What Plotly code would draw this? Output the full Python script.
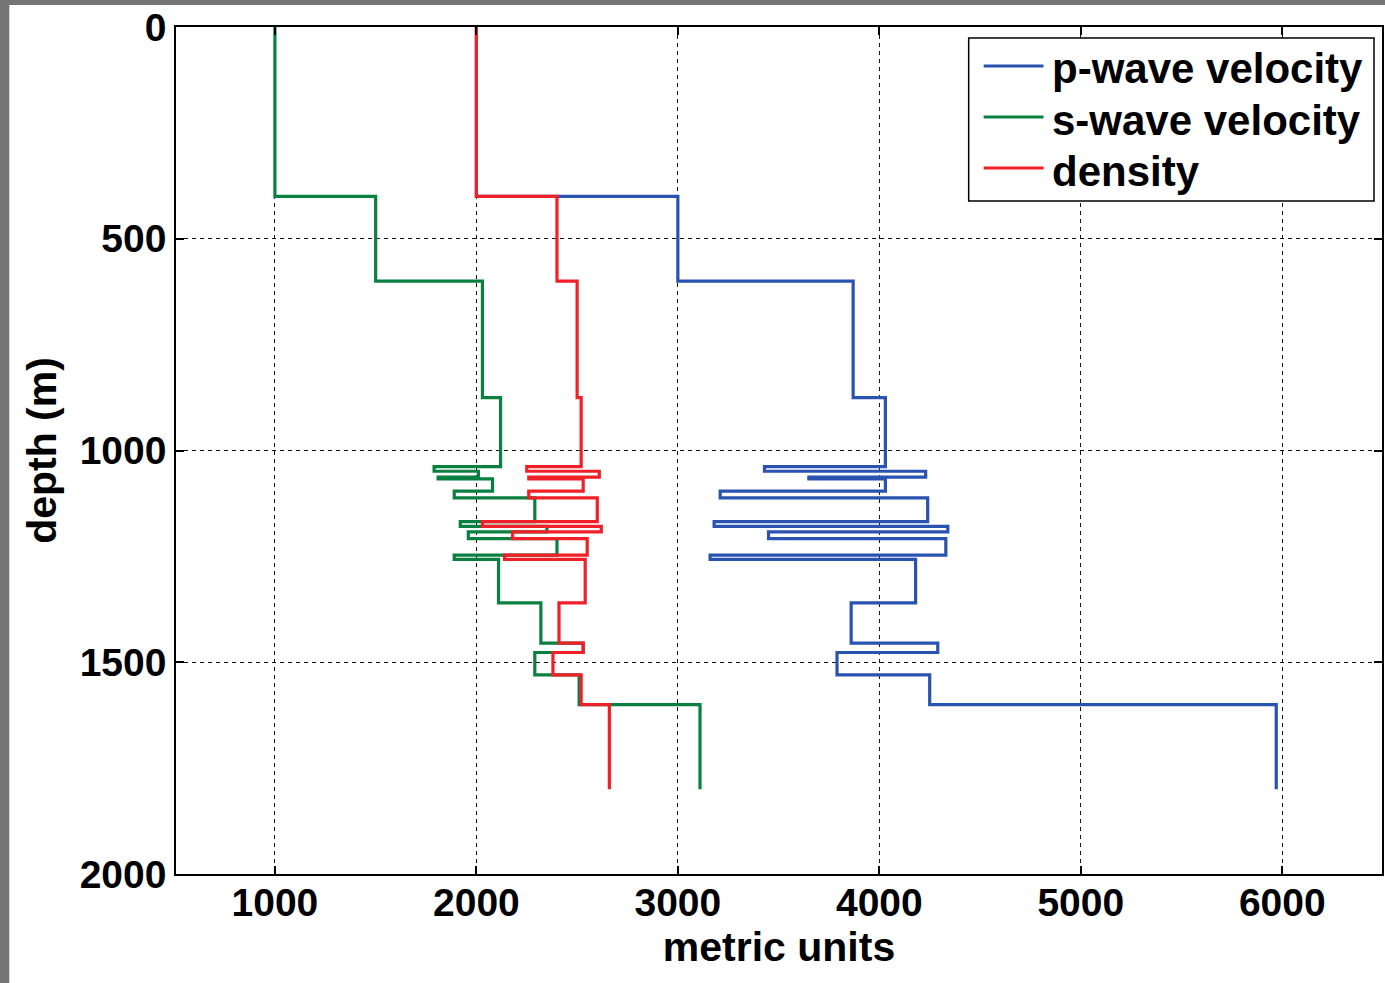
import plotly.graph_objects as go

# Layer tops (m) and final bottom depth
depth = [0, 400, 600, 875, 1038, 1049, 1063, 1067, 1096, 1112, 1168, 1179,
         1192, 1208, 1247, 1257, 1360, 1455, 1477, 1530, 1600, 1800]

# Layer values (one per layer)
vp = [2000, 3000, 3870, 4030, 3430, 4230, 3650, 4030, 3210, 4240, 3180,
      4340, 3450, 4330, 3160, 4180, 3860, 4290, 3790, 4250, 5970]
vs = [1000, 1500, 2030, 2120, 1790, 2010, 1810, 2080, 1890, 2290, 1920,
      2350, 1960, 2400, 1890, 2110, 2320, 2530, 2290, 2510, 3110]
rho = [2000, 2400, 2500, 2520, 2250, 2610, 2260, 2530, 2260, 2600, 2030,
       2620, 2180, 2550, 2140, 2540, 2410, 2530, 2380, 2520, 2660]

x_ticks = [1000, 2000, 3000, 4000, 5000, 6000]
y_ticks = [0, 500, 1000, 1500, 2000]

series_names = ["p-wave velocity", "s-wave velocity", "density"]
series_values = [vp, vs, rho]
series_colors = ["#2A52B0", "#0A8040", "#F02028"]

FONT = "Liberation Sans, Arial, sans-serif"

W, H = 1385, 983
ml, mr, mt, mb = 176, 1, 27, 109
pw, ph = W - ml - mr, H - mt - mb


def px2paper_x(px):
    return (px - ml) / pw


def px2paper_y(py):
    return (H - mb - py) / ph


fig = go.Figure()
for name, vals, color in zip(series_names, series_values, series_colors):
    fig.add_trace(go.Scatter(
        x=list(vals) + [vals[-1]],
        y=depth,
        mode="lines",
        line=dict(color=color, width=3.2, shape="vh"),
        name=name,
        showlegend=False,
    ))

# white figure area over a gray frame
fig.add_shape(type="rect", xref="paper", yref="paper",
              x0=px2paper_x(9), x1=px2paper_x(W + 10),
              y0=px2paper_y(H + 10), y1=px2paper_y(5),
              fillcolor="white", line=dict(width=0), layer="below")

# legend box (drawn as layout items, MATLAB-style)
fig.add_shape(type="rect", xref="paper", yref="paper",
              x0=px2paper_x(970), x1=px2paper_x(1376),
              y0=px2paper_y(201), y1=px2paper_y(38),
              fillcolor="white", line=dict(color="black", width=1.5),
              layer="above")
legend_rows = [66, 117, 168]
for name, color, ry in zip(series_names, series_colors, legend_rows):
    fig.add_shape(type="line", xref="paper", yref="paper",
                  x0=px2paper_x(985), x1=px2paper_x(1045),
                  y0=px2paper_y(ry), y1=px2paper_y(ry),
                  line=dict(color=color, width=3), layer="above")
    fig.add_annotation(xref="paper", yref="paper",
                       x=px2paper_x(1051), y=px2paper_y(ry + 3),
                       xanchor="left", yanchor="middle", showarrow=False,
                       text=name,
                       font=dict(family=FONT, size=42, color="black",
                                 weight="bold"))

axis_common = dict(
    showline=True, linecolor="black", linewidth=1.5, mirror="ticks",
    ticks="inside", ticklen=8, tickwidth=1.5, tickcolor="black",
    showgrid=True, gridcolor="#111111", gridwidth=1.3, griddash="4px,4px",
    zeroline=False,
    tickfont=dict(family=FONT, size=39, color="black", weight="bold"),
)

fig.update_xaxes(
    range=[509, 6495], tickvals=x_ticks, ticktext=[str(t) for t in x_ticks],
    ticklabelstandoff=-7,
    title=dict(text="metric units", standoff=2,
               font=dict(family=FONT, size=41, color="black", weight="bold")),
    **axis_common,
)
fig.update_yaxes(
    range=[2000, 0], tickvals=y_ticks, ticktext=[str(t) for t in y_ticks],
    title=dict(text="depth (m)", standoff=10,
               font=dict(family=FONT, size=41, color="black", weight="bold")),
    **axis_common,
)

fig.update_layout(
    width=W, height=H,
    margin=dict(l=ml, r=mr, t=mt, b=mb, pad=0),
    paper_bgcolor="#747474",
    plot_bgcolor="white",
    showlegend=False,
)

fig.write_html("out.html")
